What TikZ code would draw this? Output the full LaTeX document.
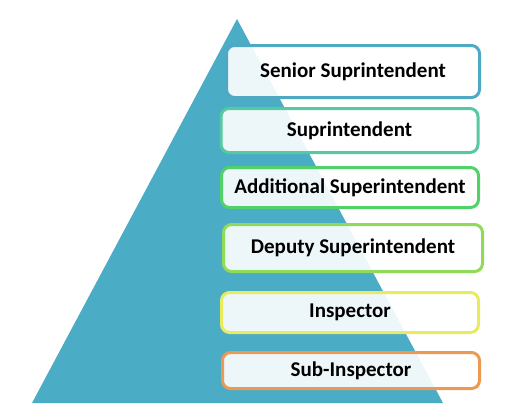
\documentclass[tikz,border=0pt]{standalone}
\usepackage{fontspec}
\setmainfont{Carlito}
\definecolor{thap}{HTML}{4BACC6}
\definecolor{vien1}{HTML}{4FA9C4}
\definecolor{vien2}{HTML}{55C9A2}
\definecolor{vien3}{HTML}{52D06A}
\definecolor{vien4}{HTML}{8FDA58}
\definecolor{vien5}{HTML}{E8EB5E}
\definecolor{vien6}{HTML}{EC9954}
\begin{document}
\begin{tikzpicture}[x=1pt, y=-1pt, font=\bfseries\fontsize{21}{25}\selectfont, line join=round, line cap=round,
	hop/.style={draw, line width=3pt, rounded corners=8pt, fill=white, fill opacity=.9, text opacity=1, inner sep=0pt}]
				\useasboundingbox (0,0) rectangle (505,416);
				\def\rong{257} % chieu rong hop
				\fill[thap] (237,19) -- (443,403) -- (32,403) -- cycle;
				\node[hop, draw=vien1, minimum width=253pt, minimum height=52pt] (senior) at (353,71.5) {Senior Suprintendent};
				\node[hop, draw=vien2, minimum width=\rong pt, minimum height=44pt] (supr) at (349.5,130.5) {Suprintendent};
				\node[hop, draw=vien3, minimum width=\rong pt, minimum height=40pt] (addl) at (350,187.5) {Additional Superintendent};
				\node[hop, draw=vien4, minimum width=259pt, minimum height=47pt] (deputy) at (353,248) {Deputy Superintendent};
				\node[hop, draw=vien5, minimum width=\rong pt, minimum height=40pt] (insp) at (350,312.5) {Inspector};
				\node[hop, draw=vien6, minimum width=\rong pt, minimum height=36pt] (subinsp) at (351,370.5) {Sub-Inspector};
		\end{tikzpicture}
\end{document}
